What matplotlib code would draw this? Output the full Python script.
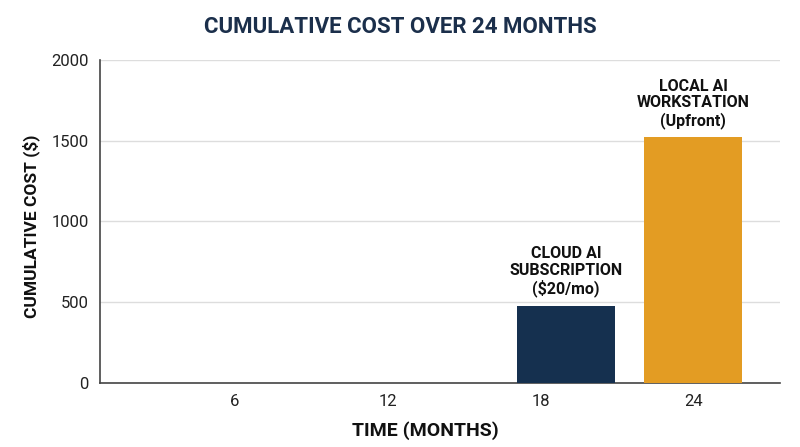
import matplotlib
matplotlib.use("Agg")
import matplotlib.pyplot as plt

# data
tick_months = [6, 12, 18, 24]
bar_months = [19, 24]
bar_costs = [480, 1520]
bar_labels = ["CLOUD AI\nSUBSCRIPTION\n($20/mo)", "LOCAL AI\nWORKSTATION\n(Upfront)"]
bar_colors = ["#15304f", "#e39c23"]

plt.rcParams["font.family"] = ["Roboto", "DejaVu Sans"]

fig = plt.figure(figsize=(8, 4.47), dpi=100)
ax = fig.add_axes([0.125, 0.143, 0.85, 0.723])

ax.bar(bar_months, bar_costs, width=3.85, color=bar_colors, zorder=3)
for x, y, lab in zip(bar_months, bar_costs, bar_labels):
    ax.text(x, y + 55, lab, ha="center", va="bottom", fontsize=11.5,
            fontweight="bold", color="#111111", linespacing=1.1)

ax.set_xlim(0.7, 27.4)
ax.set_ylim(0, 2000)
ax.set_xticks(tick_months)
ax.set_yticks([0, 500, 1000, 1500, 2000])
ax.tick_params(length=0, labelsize=12, colors="#222222")
ax.tick_params(axis="x", pad=8)
ax.tick_params(axis="y", pad=8)
ax.yaxis.grid(True, color="#dddddd", linewidth=1, zorder=0)

for s in ["top", "right"]:
    ax.spines[s].set_visible(False)
for s in ["left", "bottom"]:
    ax.spines[s].set_color("#444444")
    ax.spines[s].set_linewidth(1.2)

ax.set_xlabel("TIME (MONTHS)", fontsize=14, fontweight="bold", color="#111111")
ax.xaxis.set_label_coords(0.479, -0.118)
ax.set_ylabel("CUMULATIVE COST ($)", fontsize=12.5, fontweight="bold", color="#111111")
ax.yaxis.set_label_coords(-0.088, 0.485)

fig.suptitle("CUMULATIVE COST OVER 24 MONTHS", fontsize=16, fontweight="bold",
             color="#1b2f4b", y=0.965)

fig.savefig("out.png", dpi=100, facecolor="white")
